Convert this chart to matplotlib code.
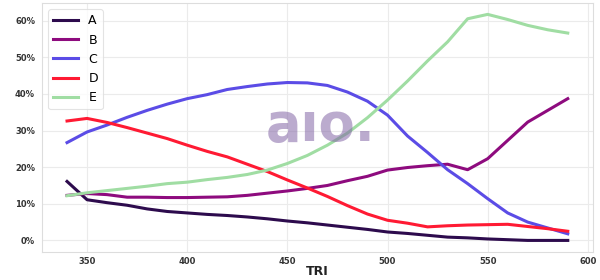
import matplotlib
matplotlib.use("Agg")
import matplotlib.pyplot as plt
from matplotlib.ticker import FuncFormatter

tri = [340, 350, 360, 370, 380, 390, 400, 410, 420, 430, 440, 450, 460,
       470, 480, 490, 500, 510, 520, 530, 540, 550, 560, 570, 580, 590]

series_a = [16.1, 11.1, 10.3, 9.6, 8.6, 7.9, 7.5, 7.1, 6.8, 6.4, 5.9, 5.3, 4.8,
            4.2, 3.6, 3.0, 2.3, 1.9, 1.4, 0.9, 0.7, 0.4, 0.2, 0.0, 0.0, 0.0]
series_b = [12.3, 12.8, 12.5, 11.8, 11.8, 11.7, 11.7, 11.8, 11.9, 12.3, 12.9, 13.5, 14.2,
            15.0, 16.3, 17.5, 19.2, 19.9, 20.4, 20.8, 19.3, 22.3, 27.3, 32.3, 35.5, 38.7]
series_c = [26.7, 29.6, 31.5, 33.6, 35.5, 37.2, 38.7, 39.8, 41.2, 42.0, 42.7, 43.1, 43.0,
            42.3, 40.5, 38.0, 34.2, 28.5, 24.0, 19.3, 15.5, 11.4, 7.5, 5.0, 3.4, 1.8]
series_d = [32.6, 33.3, 32.2, 30.8, 29.3, 27.8, 26.0, 24.3, 22.8, 20.8, 18.8, 16.5, 14.3,
            12.0, 9.5, 7.2, 5.5, 4.7, 3.7, 4.0, 4.2, 4.3, 4.4, 3.8, 3.2, 2.5]
series_e = [12.2, 13.0, 13.6, 14.2, 14.8, 15.5, 15.9, 16.6, 17.2, 18.0, 19.2, 21.0, 23.2,
            26.0, 29.3, 33.5, 38.3, 43.5, 49.0, 54.2, 60.5, 61.7, 60.3, 58.7, 57.5, 56.6]

labels = ["A", "B", "C", "D", "E"]
colors = ["#2d0b4d", "#8e0b7e", "#5b4ce6", "#ff1a33", "#a0dda3"]

fig = plt.figure(figsize=(6, 2.8), dpi=100)
ax = fig.add_axes([0.07, 0.101, 0.918, 0.888])

for vals, lab, col in zip([series_a, series_b, series_c, series_d, series_e], labels, colors):
    ax.plot(tri, vals, color=col, lw=2.2, label=lab)

ax.yaxis.set_major_formatter(FuncFormatter(lambda v, p: f"{v:.0f}%"))
ax.set_xticks([350, 400, 450, 500, 550, 600])
ax.set_yticks([0, 10, 20, 30, 40, 50, 60])
ax.grid(True, color="#ebebeb", lw=0.8)
ax.set_axisbelow(True)
for s in ax.spines.values():
    s.set_color("#dddddd")
    s.set_linewidth(0.8)
ax.tick_params(axis="y", length=0, pad=5, labelsize=6, labelcolor="#333333")
ax.tick_params(axis="x", length=0, pad=4, labelsize=6, labelcolor="#333333")
for t in ax.get_xticklabels() + ax.get_yticklabels():
    t.set_fontweight("bold")
ax.set_xlabel("TRI", fontsize=9, fontweight="bold", labelpad=-1, color="#222222")

leg = ax.legend(loc="upper left", fontsize=9, frameon=True, handlelength=2.0)
leg.get_frame().set_edgecolor("#dddddd")
leg.get_frame().set_linewidth(0.8)

ax.text(0.505, 0.505, "a\u0131o.", transform=ax.transAxes, ha="center", va="center",
        fontsize=38, fontweight="bold", color="#8466a6", alpha=0.55, zorder=5)

fig.savefig("out.png", dpi=100)
